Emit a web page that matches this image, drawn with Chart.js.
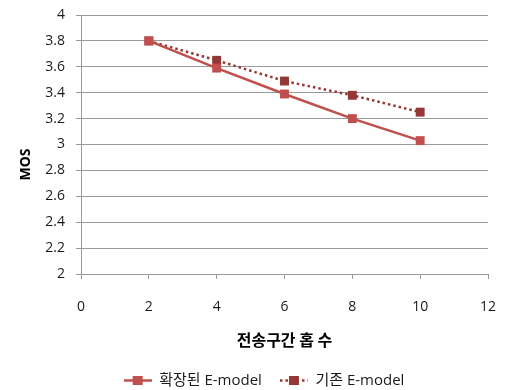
<!DOCTYPE html>
<html lang="ko">
<head>
<meta charset="utf-8">
<title>MOS</title>
<script src="https://cdn.jsdelivr.net/npm/chart.js@4/dist/chart.umd.min.js"></script>
<style>
  html, body { margin: 0; padding: 0; background: #fff; }
  #wrap { width: 506px; height: 390px; }
</style>
</head>
<body>
<div id="wrap"><canvas id="mosChart" width="506" height="390"></canvas></div>
<script>
// hop counts and MOS per model
const hops = [2, 4, 6, 8, 10];
const mosExtended = [3.80, 3.59, 3.39, 3.20, 3.03];
const mosLegacy = [3.80, 3.65, 3.49, 3.38, 3.25];
const seriesNames = ['확장된 E-model', '기존 E-model'];

const xTicks = [0, 2, 4, 6, 8, 10, 12];
const yTicks = [2, 2.2, 2.4, 2.6, 2.8, 3, 3.2, 3.4, 3.6, 3.8, 4];

const FONT = "'Open Sans', 'Noto Sans CJK KR', sans-serif";
const TITLE_FONT = "'Noto Sans CJK KR', sans-serif";
const GRID = '#9a9a9a';
const TEXT = '#1a1a1a';
const RED = '#c0504d';
const DARK_RED = '#953735';

// small line + square swatch used as legend marker
function legendIcon(color, dash) {
    const c = document.createElement('canvas');
    c.width = 28;
    c.height = 11;
    const ctx = c.getContext('2d');
    ctx.strokeStyle = color;
    ctx.lineWidth = 2.5;
    ctx.setLineDash(dash);
    ctx.beginPath();
    ctx.moveTo(0, 5.5);
    ctx.lineTo(28, 5.5);
    ctx.stroke();
    ctx.fillStyle = color;
    ctx.fillRect(9, 1, 10, 9);
    return c;
}

function toPoints(values) {
    return hops.map((h, i) => ({ x: h, y: values[i] }));
}

function fmtTick(v) {
    return String(Number(v.toFixed(1)));
}

// legend sits a bit right of the canvas centre, under the plot
const legendShift = {
    id: 'legendShift',
    afterLayout(chart) {
        chart.legend.left += 20;
        chart.legend.right += 20;
    }
};

const datasets = [
    {
        label: seriesNames[0],
        data: toPoints(mosExtended),
        borderColor: RED,
        backgroundColor: RED,
        borderWidth: 2.5,
        pointStyle: 'rect',
        pointRadius: 6.3,
        pointBorderWidth: 0,
        legendIcon: legendIcon(RED, [])
    },
    {
        label: seriesNames[1],
        data: toPoints(mosLegacy),
        borderColor: DARK_RED,
        backgroundColor: DARK_RED,
        borderWidth: 2.5,
        borderDash: [2.5, 3],
        pointStyle: 'rect',
        pointRadius: 6.3,
        pointBorderWidth: 0,
        legendIcon: legendIcon(DARK_RED, [2.5, 3])
    }
];

new Chart(document.getElementById('mosChart'), {
    type: 'scatter',
    data: { datasets: datasets },
    plugins: [legendShift],
    options: {
        responsive: false,
        animation: false,
        showLine: true,
        layout: { padding: { top: 15, right: 18, bottom: -8, left: 0 } },
        plugins: {
            tooltip: { enabled: false },
            legend: {
                position: 'bottom',
                labels: {
                    usePointStyle: true,
                    pointStyleWidth: 28,
                    padding: 18,
                    color: TEXT,
                    font: { family: FONT, size: 15 },
                    generateLabels: chart => chart.data.datasets.map((ds, i) => ({
                        text: ds.label,
                        pointStyle: ds.legendIcon,
                        fontColor: TEXT,
                        datasetIndex: i,
                        hidden: false
                    }))
                }
            }
        },
        scales: {
            x: {
                type: 'linear',
                min: 0,
                max: 12,
                afterBuildTicks: axis => { axis.ticks = xTicks.map(v => ({ value: v })); },
                afterFit: axis => {
                    axis.height = 81;
                    axis.paddingLeft = 0;
                    axis.paddingRight = 0;
                },
                grid: { drawOnChartArea: false, color: GRID, tickLength: 5 },
                border: { color: GRID },
                ticks: {
                    padding: 20,
                    color: TEXT,
                    font: { family: FONT, size: 14 },
                    maxRotation: 0
                },
                title: {
                    display: true,
                    text: '전송구간 홉 수',
                    color: '#000',
                    font: { family: TITLE_FONT, size: 16, weight: 'bold', lineHeight: 1.2 },
                    padding: { top: 0, bottom: 5 }
                }
            },
            y: {
                type: 'linear',
                min: 2,
                max: 4,
                afterBuildTicks: axis => { axis.ticks = yTicks.map(v => ({ value: v })); },
                afterFit: axis => {
                    axis.width = 81;
                    axis.paddingTop = 0;
                    axis.paddingBottom = 0;
                },
                grid: { color: GRID, tickLength: 5 },
                border: { color: GRID },
                ticks: {
                    padding: 11,
                    color: TEXT,
                    font: { family: FONT, size: 14 },
                    callback: v => fmtTick(v)
                },
                title: {
                    display: true,
                    // trailing spaces push the rotated title a little below the axis middle
                    text: 'MOS' + ' '.repeat(11),
                    color: '#000',
                    font: { family: FONT, size: 14, weight: 'bold', lineHeight: 1.2 },
                    padding: { top: 18, bottom: 0 }
                }
            }
        }
    }
});
</script>
</body>
</html>
